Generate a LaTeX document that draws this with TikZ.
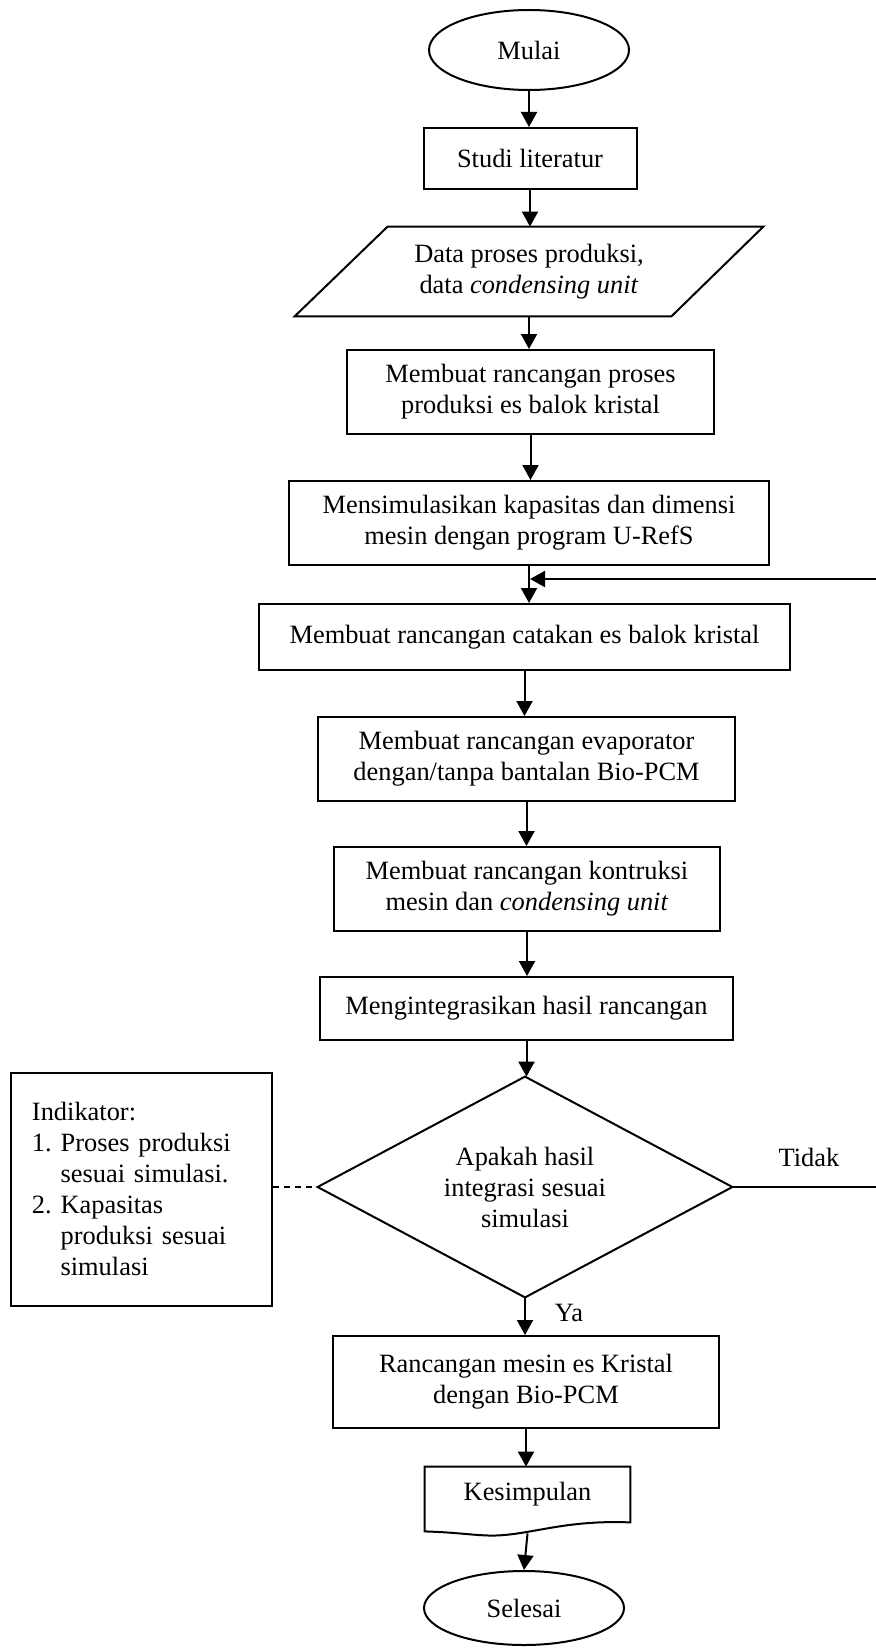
\documentclass[tikz,border=0pt]{standalone}
\usepackage{fontspec}
\setmainfont{Liberation Serif}
\usetikzlibrary{arrows.meta,shapes.geometric,calc}
\begin{document}
\begin{tikzpicture}[x=0.5pt,y=-0.5pt,
  every node/.style={font=\fontsize{13.2}{15.5}\selectfont},
  line/.style={line width=1pt},
  flow/.style={line width=1pt,-{Triangle[length=7.5pt,width=8pt]}},
  box/.style={draw,line width=1pt,rectangle,align=center,inner sep=0pt},
  term/.style={draw,line width=1pt,ellipse,inner sep=0pt,minimum width=100pt},
  ghost/.style={rectangle,align=center,inner sep=0pt}]
\useasboundingbox (0,0) rectangle (875,1648);

% start / input / process steps
\node[term,minimum height=40pt] (mulai) at (529,50) {Mulai};
\node[box,minimum width=106.5pt,minimum height=30.5pt] (studi) at (530,158.5) {Studi literatur};
\node[ghost,minimum width=234pt,minimum height=44.5pt] (data) at (529,271.5)
  {Data proses produksi,\\ data \textit{condensing unit}};
\draw[line] (data.south west) -- ([xshift=46.5pt]data.north west) -- (data.north east)
  -- ([xshift=-46pt]data.south east) -- cycle;
\node[box,minimum width=183.5pt,minimum height=42pt] (proses) at (530.5,392)
  {Membuat rancangan proses\\ produksi es balok kristal};
\node[box,minimum width=240pt,minimum height=42pt] (simul) at (529,523)
  {Mensimulasikan kapasitas dan dimensi\\ mesin dengan program U-RefS};
\node[box,minimum width=265.5pt,minimum height=33pt] (cetak) at (524.5,637)
  {Membuat rancangan catakan es balok kristal};
\node[box,minimum width=208.5pt,minimum height=42pt] (evap) at (526.5,759)
  {Membuat rancangan evaporator\\ dengan/tanpa bantalan Bio-PCM};
\node[box,minimum width=193pt,minimum height=42pt] (konstr) at (527,889)
  {Membuat rancangan kontruksi\\ mesin dan \textit{condensing unit}};
\node[box,minimum width=206.5pt,minimum height=31.5pt] (integr) at (526.5,1008.5)
  {Mengintegrasikan hasil rancangan};

% decision
\node[ghost,minimum width=207pt,minimum height=110pt] (cek) at (525,1187)
  {Apakah hasil\\ integrasi sesuai\\ simulasi};
\draw[line] (cek.north) -- (cek.east) -- (cek.south) -- (cek.west) -- cycle;

% indicator note
\node[draw,line width=1pt,rectangle,align=left,inner ysep=0pt,inner xsep=10.5pt,
  text width=109.5pt,minimum height=116.5pt] (ind) at (141.5,1189.5)
  {Indikator:\\
   1.\ Proses produksi\\
   \phantom{1.\ }sesuai simulasi.\\
   2.\ Kapasitas\\
   \phantom{2.\ }produksi sesuai\\
   \phantom{2.\ }simulasi};
\draw[line,dash pattern=on 3pt off 2.5pt] (ind.east |- cek.west) -- (cek.west);

% result / conclusion / end
\node[box,minimum width=193pt,minimum height=46pt] (hasil) at (526,1382)
  {Rancangan mesin es Kristal\\ dengan Bio-PCM};
\node[ghost,minimum width=102.5pt,minimum height=27.5pt] (simp) at (527.5,1494.5) {Kesimpulan};
\draw[line] (simp.south east) -- (simp.north east) -- (simp.north west)
  -- ([yshift=-4.5pt]simp.south west)
  .. controls ($(simp.south)+(-72,10)$) and ($(simp.south)+(-62,12)$) .. ($(simp.south)+(-42,13)$)
  .. controls ($(simp.south)+(-2,15)$) and ($(simp.south)+(32,-3)$) .. (simp.south east) -- cycle;
\node[term,minimum height=37pt] (selesai) at (524,1608) {Selesai};

% labels
\node (ya) at (569,1313) {Ya};
\node (tidak) at (809,1157) {Tidak};

% connectors
\draw[flow] (mulai.south) -- (mulai.south |- studi.north);
\draw[flow] (studi.south) -- (studi.south |- data.north);
\draw[flow] (data.south) -- (data.south |- proses.north);
\draw[flow] (proses.south) -- (proses.south |- simul.north);
\draw[flow] (simul.south) -- (simul.south |- cetak.north);
\draw[flow] (cetak.south) -- (cetak.south |- evap.north);
\draw[flow] (evap.south) -- (evap.south |- konstr.north);
\draw[flow] (konstr.south) -- (konstr.south |- integr.north);
\draw[flow] (integr.south) -- (integr.south |- cek.north);
\draw[flow] (cek.south) -- (cek.south |- hasil.north);
\draw[flow] (hasil.south) -- (hasil.south |- simp.north);
\draw[flow] ([yshift=-5.5pt]simp.south) -- (selesai.north);

% loop back when the result does not match (return leg runs past the page edge)
\coordinate (edge) at (884,579);
\coordinate (merge) at (simul.south |- edge);
\draw[flow] (cek.east) -| (edge) -- ([xshift=0.5pt]merge);
\end{tikzpicture}
\end{document}
